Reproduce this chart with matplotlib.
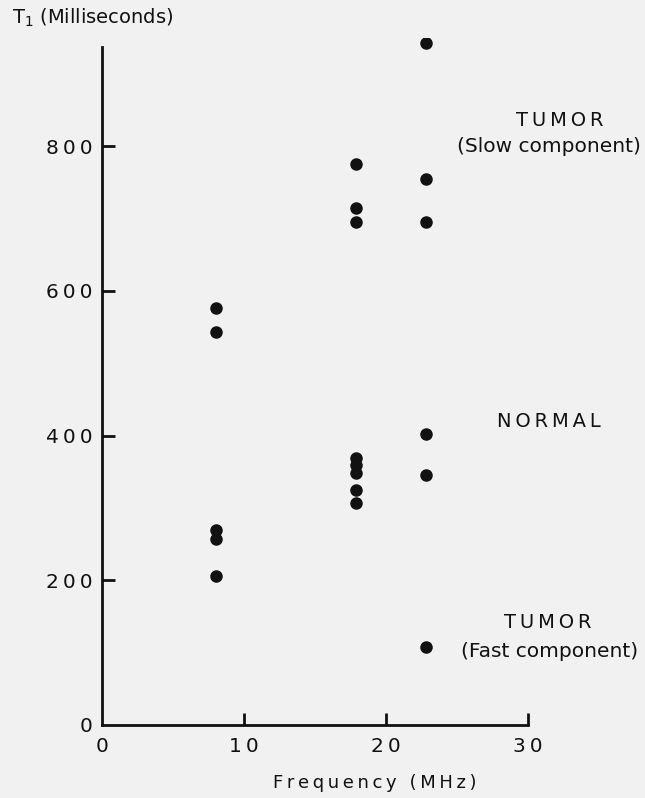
import matplotlib.pyplot as plt

# T1 relaxation times (ms)
freq_8 = [8.0, 8.0, 8.0, 8.0, 8.0]
t1_8 = [576, 543, 270, 257, 206]

freq_18 = [17.9] * 8
t1_18 = [775, 714, 695, 369, 359, 348, 325, 307]

freq_23 = [22.8] * 5
t1_23 = [943, 755, 695, 402, 345]

freq_fast = [22.8]
t1_fast = [108]

xticks = [0, 10, 20, 30]
yticks = [0, 200, 400, 600, 800]

bg = "#f1f1f1"
ink = "#111111"


def track(s, sep="\u2009"):
    # wide letter spacing like the original typesetting
    return sep.join(s)


fig = plt.figure(figsize=(6.45, 7.98), dpi=100, facecolor=bg)
ax = fig.add_axes([0.158, 0.0915, 0.6605, 0.8615], facecolor=bg)

for xs, ys in [(freq_8, t1_8), (freq_18, t1_18), (freq_23, t1_23), (freq_fast, t1_fast)]:
    ax.plot(xs, ys, "o", color=ink, markersize=8, linestyle="none")

ax.set_xlim(0, 30)
ax.set_ylim(0, 950)
ax.spines["top"].set_visible(False)
ax.spines["right"].set_visible(False)
ax.spines["left"].set_bounds(0, 937)
for s in ["left", "bottom"]:
    ax.spines[s].set_linewidth(2)
    ax.spines[s].set_color(ink)

ax.set_xticks(xticks)
ax.set_yticks(yticks)
ax.set_xticklabels([track(str(v)) for v in xticks])
ax.set_yticklabels([track(str(v)) for v in yticks])
ax.tick_params(axis="both", direction="in", length=9, width=2, color=ink,
               labelsize=14.5, labelcolor=ink)
ax.tick_params(axis="y", pad=7)
ax.tick_params(axis="x", pad=9)
ax.yaxis.get_major_ticks()[0].tick1line.set_visible(False)
ax.xaxis.get_major_ticks()[0].tick1line.set_visible(False)

ax.set_xlabel(track("Frequency (MHz)"), fontsize=13, color=ink)
ax.xaxis.set_label_coords(0.64, -0.072)
fig.text(0.018, 0.978, r"T$_1$ (Milliseconds)", fontsize=14, color=ink,
         ha="left", va="center")

lab = dict(fontsize=14, ha="center", va="center", color=ink)
ax.text(32.25, 836, track("TUMOR"), **lab)
ax.text(31.5, 799, "(Slow component)", fontsize=14.5, ha="center", va="center", color=ink)
ax.text(31.5, 419, track("NORMAL"), **lab)
ax.text(31.4, 141, track("TUMOR"), **lab)
ax.text(31.5, 101, "(Fast component)", fontsize=14.5, ha="center", va="center", color=ink)

fig.savefig("out.png", dpi=100, facecolor=bg)
